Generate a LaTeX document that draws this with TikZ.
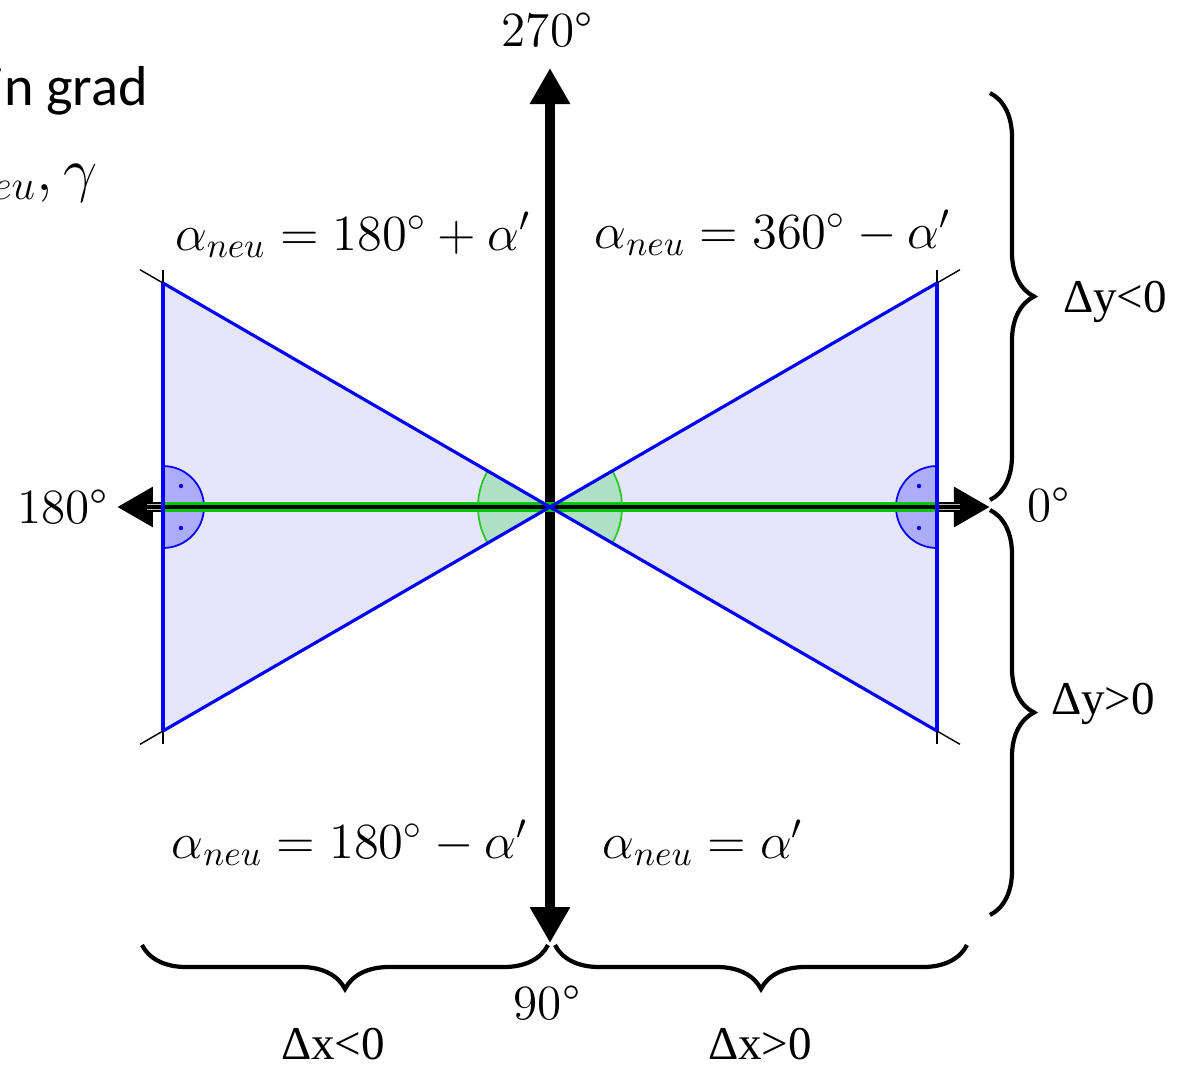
\documentclass[tikz,border=0pt]{standalone}
\usepackage{fontspec}
\newfontfamily\carlito{Carlito}
\newfontfamily\tnr{Liberation Serif}
\usetikzlibrary{arrows.meta,decorations.pathreplacing,calc}
\definecolor{trifill}{RGB}{230,230,250}
\definecolor{secfill}{RGB}{176,224,196}
\definecolor{secline}{RGB}{40,200,40}
\definecolor{rafill}{RGB}{172,172,250}
\definecolor{axgreen}{RGB}{0,200,0}
\begin{document}
\begin{tikzpicture}[
    every node/.style={font=\fontsize{14}{17}\selectfont, inner sep=1pt},
    delta/.style={font=\tnr\fontsize{13.4}{16}\selectfont},
    edge/.style={draw=blue, line width=0.9pt},
    tick/.style={black, line width=0.4pt},
    axis/.style={line width=0.1cm, {Triangle[length=0.36cm,width=0.38cm]}-{Triangle[length=0.36cm,width=0.38cm]}},
    brc/.style={decorate, decoration={brace, amplitude=0.44cm}, line width=1.2pt},
    sector/.style={draw=secline, line width=0.5pt, fill=secfill},
    rangle/.style={draw=blue, line width=0.5pt, fill=rafill}
]
\useasboundingbox (-5.50,-5.60) rectangle (6.27,5.07);

\coordinate (O) at (0,0);
\coordinate (A) at (-3.87,2.24);
\coordinate (B) at (-3.87,-2.24);
\coordinate (C) at (3.87,2.24);
\coordinate (D) at (3.87,-2.24);
\coordinate (N) at (0,4.39);
\coordinate (S) at (0,-4.36);
\coordinate (W) at (-4.33,0);
\coordinate (E) at (4.40,0);

\fill[trifill] (A) -- (O) -- (B) -- cycle;
\fill[trifill] (C) -- (O) -- (D) -- cycle;
\filldraw[sector] (O) -- (30:0.72) arc (30:-30:0.72) -- cycle;
\filldraw[sector] (O) -- (150:0.72) arc (150:210:0.72) -- cycle;
\filldraw[rangle] (B) ++(0,1.83) arc (-90:90:0.41) -- cycle;
\filldraw[rangle] (C) ++(0,-1.83) arc (90:270:0.41) -- cycle;
\fill[blue] (-3.69,0.21) circle (0.022) (-3.69,-0.21) circle (0.022);
\fill[blue] (3.69,0.21) circle (0.022) (3.69,-0.21) circle (0.022);

\draw[tick] (-4.1,2.373) -- (4.1,-2.373);
\draw[tick] (-4.1,-2.373) -- (4.1,2.373);
\draw[tick] (-3.87,2.37) -- (-3.87,-2.37);
\draw[tick] (3.87,2.37) -- (3.87,-2.37);

\draw[axis] (S) -- (N);
\draw[axis] (W) -- (E);
\draw[gray!55, line width=0.055cm] ($(W)+(0.3,0)$) -- ($(E)-(0.3,0)$);
\draw[black, line width=0.035cm] ($(W)+(0.3,0)$) -- ($(E)-(0.3,0)$);
\draw[axgreen, line width=0.1cm] (-3.87,0) -- (3.87,0);
\draw[black, line width=0.04cm] (-3.87,0) -- (3.87,0);

\draw[edge] (A) -- (D);
\draw[edge] (B) -- (C);
\draw[edge] (A) -- (B);
\draw[edge] (C) -- (D);

\draw[brc] (4.40,4.14) -- (4.40,0.07);
\draw[brc] (4.40,-0.03) -- (4.40,-4.08);
\draw[brc] (-0.02,-4.38) -- (-4.08,-4.38);
\draw[brc] (4.17,-4.38) -- (0.05,-4.38);

\node (north) at (-0.03,4.77) {270°};
\node[anchor=east] (west) at (-4.38,0) {180°};
\node[anchor=west] (east) at (4.73,0.02) {0°};
\node (south) at (-0.03,-4.96) {90°};

\node[anchor=base] (q3) at (-1.97,2.57) {$\alpha_{neu} = 180^\circ + \alpha'$};
\node[anchor=base] (q4) at (2.23,2.59) {$\alpha_{neu} = 360^\circ - \alpha'$};
\node[anchor=base] (q2) at (-2.0,-3.51) {$\alpha_{neu} = 180^\circ - \alpha'$};
\node[anchor=base] (q1) at (1.53,-3.51) {$\alpha_{neu} = \alpha'$};

\node[delta] (dyneg) at (5.65,2.05) {Δy<0};
\node[delta] (dypos) at (5.53,-1.97) {Δy>0};
\node[delta] (dxneg) at (-2.17,-5.37) {Δx<0};
\node[delta] (dxpos) at (2.10,-5.37) {Δx>0};

\node[anchor=base east, font=\carlito\fontsize{16}{19}\selectfont] (unit) at (-3.98,4.02) {in grad};
\node[anchor=base east, font=\fontsize{17}{20}\selectfont] (vars) at (-4.48,3.17) {$\alpha_{neu},\gamma$};
\end{tikzpicture}
\end{document}
